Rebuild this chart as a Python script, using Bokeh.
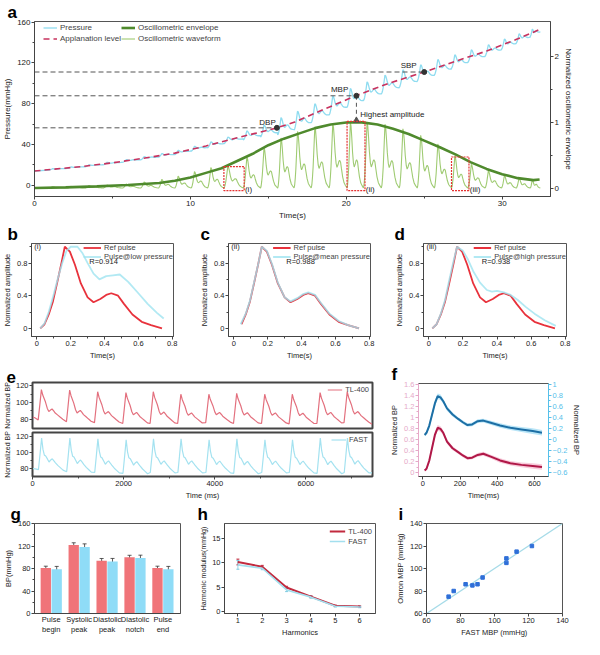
import numpy as np
from bokeh.plotting import figure
from bokeh.models import (Range1d, LinearAxis, FixedTicker, Legend, LegendItem,
                          Whisker, TeeHead, ColumnDataSource)
from bokeh.layouts import row, column
from bokeh.embed import file_html
from bokeh.resources import INLINE
from bokeh.core.properties import value

FONT = "Liberation Sans"

# ---------------- panel a data ----------------
APPL_T = [0, 3, 5, 7, 9, 11, 13, 15.5, 16.7, 18.5, 20.6, 22.7, 25, 27, 29, 31, 32.45]
APPL_V = [14, 18.3, 22, 26.5, 31.5, 38.5, 46.5, 56, 62, 74, 87.7, 99.8, 111, 121.5, 131.5, 143.5, 153]
ENV_T = [0, 2, 4, 6, 8, 9, 10, 11, 12, 13, 14, 15, 16, 17, 18, 19, 20, 20.6, 21, 22, 23, 24,
         25, 26, 27, 28, 29, 30, 31, 32, 32.4]
ENV_V = [0.0, 0.01, 0.025, 0.045, 0.075, 0.11, 0.16, 0.23, 0.30, 0.41, 0.52, 0.65, 0.75, 0.83,
         0.91, 0.965, 0.995, 1.0, 0.997, 0.965, 0.90, 0.82, 0.72, 0.62, 0.51, 0.39, 0.29, 0.21,
         0.15, 0.12, 0.13]
BEAT_ONSET = [0.9, 2.1, 3.25, 4.4, 5.65, 6.8, 7.95, 9.0, 10.05, 11.1, 12.15, 13.4, 14.5, 15.6,
              16.65, 17.75, 18.9, 20.05, 21.1, 22.25, 23.4, 24.55, 25.65, 26.75, 27.8, 28.9,
              29.95, 30.9, 31.8]
BEAT_END = 32.45
OSC_AMP = [0.02, 0.025, 0.035, 0.045, 0.06, 0.09, 0.13, 0.18, 0.25, 0.31, 0.33, 0.47, 0.61,
           0.76, 0.86, 0.93, 0.98, 1.0, 1.0, 0.97, 0.9, 0.8, 0.67, 0.49, 0.36, 0.26, 0.19,
           0.15, 0.13]
PRESS_AMP = [1, 1, 1.5, 2, 2, 2.5, 3, 3.5, 4, 5, 5.5, 8, 11, 16, 17, 17, 17, 17, 17, 17, 16,
             15, 14, 12, 11, 10, 9, 8, 6]
KEY_NAME = ["DBP", "MBP", "SBP"]
KEY_T = [15.55, 20.65, 25.0]
KEY_P = [56.3, 87.7, 111.0]
BOX_T0 = [12.15, 20.05, 26.75]
BOX_T1 = [13.45, 21.2, 27.87]
BOX_TOP = [18.3, 62.7, 27.7]
BOX_BOTTOM = [-5.2, -5.2, -5.2]
BOX_TAG = ["(i)", "(ii)", "(iii)"]

# ---------------- panels b-d data ----------------
REF_T = [0.02, 0.045, 0.07, 0.095, 0.12, 0.145, 0.165, 0.195, 0.225, 0.26, 0.3, 0.335, 0.375,
         0.41, 0.44, 0.48, 0.515, 0.565, 0.62, 0.675, 0.74]
REF_V = [0.0, 0.05, 0.17, 0.33, 0.56, 0.8, 1.0, 0.94, 0.78, 0.55, 0.38, 0.32, 0.36, 0.41, 0.43,
         0.40, 0.3, 0.17, 0.08, 0.04, 0.0]
LOW_T = [0.02, 0.045, 0.07, 0.1, 0.125, 0.15, 0.175, 0.2, 0.24, 0.27, 0.3, 0.335, 0.37, 0.41,
         0.45, 0.49, 0.54, 0.6, 0.655, 0.71, 0.75]
LOW_V = [0.0, 0.06, 0.2, 0.42, 0.62, 0.8, 0.95, 1.0, 1.0, 0.92, 0.8, 0.67, 0.6, 0.64, 0.65,
         0.66, 0.57, 0.43, 0.3, 0.19, 0.12]
MEAN_T = [0.04, 0.07, 0.095, 0.12, 0.145, 0.165, 0.195, 0.225, 0.26, 0.3, 0.335, 0.375, 0.41,
          0.44, 0.48, 0.515, 0.565, 0.62, 0.675, 0.74]
MEAN_V = [0.05, 0.18, 0.34, 0.57, 0.8, 1.0, 0.95, 0.79, 0.56, 0.38, 0.33, 0.37, 0.42, 0.44,
          0.41, 0.31, 0.18, 0.09, 0.04, 0.0]
HIGH_T = [0.02, 0.045, 0.07, 0.095, 0.12, 0.145, 0.165, 0.2, 0.23, 0.26, 0.3, 0.34, 0.37, 0.4,
          0.44, 0.48, 0.52, 0.57, 0.62, 0.68, 0.745]
HIGH_V = [0.0, 0.05, 0.18, 0.35, 0.6, 0.83, 1.0, 0.95, 0.84, 0.7, 0.56, 0.47, 0.45, 0.46, 0.44,
          0.41, 0.35, 0.26, 0.18, 0.1, 0.03]

# ---------------- panel e data ----------------
E_OFF = [0, 35, 70, 100, 160, 200, 233, 270, 304, 340, 374, 430, 480, 540]
E_TMPL_TL = [79.3, 97, 115.5, 109, 100.6, 93, 89.4, 91, 92.3, 90, 87.5, 85, 82.7, 80]
TL_ONSET = [125, 745, 1360, 1980, 2580, 3185, 3800, 4410, 5025, 5630, 6240, 6835]
TL_PEAK = [115.5, 115, 113, 112, 113, 110, 110, 111, 110, 110, 112, 113]
TL_TROUGH = [79.3, 77, 76, 75, 75, 75, 76, 75, 75, 74.5, 75, 76]
TL_HEAD_T, TL_HEAD_V = [0, 60], [83, 81.5]
TL_TAIL_T, TL_TAIL_V = [7450], [74]
F_OFF = [0, 35, 70, 100, 130, 160, 200, 233, 270, 304, 340, 374, 430, 480, 540]
F_TMPL = [79, 98, 118, 104, 97, 96, 92, 88.5, 91, 92.5, 90, 87.5, 84, 81.5, 78.5]
FA_ONSET = [130, 750, 1365, 1985, 2585, 3190, 3805, 4415, 5030, 5635, 6245, 6840]
FA_PEAK = [118, 118, 117, 116, 117, 117, 116, 117, 116, 116, 118, 118]
FA_TROUGH = [78.5, 76, 75, 74, 75, 75, 75, 74, 75, 75, 74, 75]
FA_HEAD_T, FA_HEAD_V = [0, 60], [80, 79.5]
FA_TAIL_T, FA_TAIL_V = [7450], [74.5]

# ---------------- panel f data ----------------
F_T = [10, 20, 35, 50, 65, 80, 95, 110, 130, 160, 190, 215, 240, 265, 295, 325, 365, 415, 470,
       530, 590, 640]
F_FAST = [0.08, 0.12, 0.25, 0.45, 0.65, 0.78, 0.76, 0.69, 0.56, 0.45, 0.37, 0.31, 0.26, 0.27,
          0.33, 0.34, 0.30, 0.25, 0.21, 0.18, 0.15, 0.12]
F_TL = [0.04, 0.07, 0.22, 0.45, 0.68, 0.81, 0.79, 0.72, 0.56, 0.44, 0.37, 0.31, 0.26, 0.27,
        0.32, 0.34, 0.29, 0.22, 0.17, 0.14, 0.12, 0.10]
F_SD = [0.02, 0.03, 0.05, 0.06, 0.06, 0.05, 0.05, 0.04, 0.04, 0.035, 0.03, 0.03, 0.03, 0.03,
        0.035, 0.035, 0.035, 0.04, 0.04, 0.045, 0.05, 0.05]

# ---------------- panel g data ----------------
G_CATS = ["Pulse\nbegin", "Systolic\npeak", "Diastolic\npeak", "Diastolic\nnotch", "Pulse\nend"]
G_TL = [80.8, 121.9, 94, 100, 80.8]
G_TL_ERR = [3.3, 3.8, 3.8, 3.5, 3.3]
G_FAST = [78.7, 118.3, 92.4, 98.5, 78.7]
G_FAST_ERR = [5, 5.5, 5.5, 5.2, 5]

# ---------------- panel h data ----------------
H_X = [1, 2, 3, 4, 5, 6]
H_TL = [10.2, 9.2, 4.9, 3.0, 1.1, 0.95]
H_TL_ERR = [0.6, 0.3, 0.25, 0.2, 0.15, 0.15]
H_FAST = [9.6, 8.9, 4.4, 2.9, 1.0, 0.85]
H_FAST_ERR = [0.9, 0.3, 0.35, 0.2, 0.15, 0.15]

# ---------------- panel i data ----------------
I_FAST = [73, 76, 83, 87, 90, 93, 107, 107, 113, 122]
I_OMRON = [75, 80, 86, 85, 86, 92, 109, 105, 115, 120]
I_LINE = [60, 140]

RED = "#e8323c"
CYAN = "#9fe3f0"


def style(p, fs="7.5px", lfs=None):
    lfs = lfs or fs
    p.xgrid.visible = False
    p.ygrid.visible = False
    p.outline_line_color = "#555555"
    p.outline_line_width = 1
    p.background_fill_color = "white"
    p.border_fill_color = "white"
    for ax in list(p.xaxis) + list(p.yaxis):
        ax.major_label_text_font = FONT
        ax.major_label_text_font_size = fs
        ax.major_label_text_color = "#222222"
        ax.axis_label_text_font = FONT
        ax.axis_label_text_font_size = lfs
        ax.axis_label_text_font_style = "normal"
        ax.axis_label_text_color = "#222222"
        ax.major_tick_out = 3
        ax.major_tick_in = 0
        ax.minor_tick_out = 2
        ax.minor_tick_in = 0
        ax.axis_line_color = "#444444"
        ax.major_tick_line_color = "#444444"
        ax.minor_tick_line_color = "#444444"
        ax.major_label_standoff = 1
        ax.axis_label_standoff = 2


def flip_right_label(ax):
    try:
        ax.axis_label_orientation = "vertical"
    except Exception:
        pass


def leg_style(l, fs="7.5px", gw=16, lh=9):
    l.background_fill_alpha = 0
    l.border_line_color = None
    l.label_text_font = FONT
    l.label_text_font_size = fs
    l.glyph_width = gw
    l.glyph_height = lh
    l.label_height = lh
    l.spacing = 0
    l.padding = 1
    l.margin = 2
    l.label_standoff = 3


def letter(p, ch, dx):
    p.title.text = ch
    p.title.align = "left"
    p.title.offset = dx
    p.title.standoff = 0
    p.title.text_font = FONT
    p.title.text_font_size = "17px"
    p.title.text_font_style = "bold"
    p.title.text_color = "black"


def txt(p, x, y, s, align="left", fs="7.5px", color="#222222", **kw):
    p.text(x=[x], y=[y], text=[s], text_font=value(FONT), text_font_size=fs,
           text_align=align, text_baseline="middle", text_color=color, **kw)


def fig(**kw):
    return figure(output_backend="svg", toolbar_location=None, **kw)


# ======================= panel a =======================
pa = fig(width=584, height=222, x_range=Range1d(0, 33.1), y_range=Range1d(-11, 160.5),
         min_border_left=26, min_border_right=34, min_border_top=20, min_border_bottom=22)
pa.extra_y_ranges = {"env": Range1d(-0.129, 2.53)}
ax_r = LinearAxis(y_range_name="env", axis_label="Normalized oscillometric envelope",
                  ticker=FixedTicker(ticks=[0, 1, 2], minor_ticks=[0.5, 1.5]))
pa.add_layout(ax_r, "right")
pa.xaxis[0].ticker = FixedTicker(ticks=[0, 10, 20, 30], minor_ticks=[5, 15, 25])
pa.yaxis[0].ticker = FixedTicker(ticks=[0, 40, 80, 120, 160], minor_ticks=[20, 60, 100, 140])
pa.xaxis[0].axis_label = "Time(s)"
pa.yaxis[0].axis_label = "Pressure(mmHg)"

ph = (np.array(REF_T) - REF_T[0]) / (REF_T[-1] - REF_T[0])
shp = np.array(REF_V)
bounds = BEAT_ONSET + [BEAT_END]
wt, wv = [0.0], [0.0]
pt, pv = [0.0], [APPL_V[0]]
for i, amp in enumerate(OSC_AMP):
    tt = bounds[i] + ph * (bounds[i + 1] - bounds[i])
    wt += list(tt)
    wv += list(amp * shp)
    pt += list(tt)
    pv += list(np.interp(tt, APPL_T, APPL_V) + PRESS_AMP[i] * (shp - 0.45))

r_press = pa.line(pt, pv, line_color="#8fdcf0", line_width=1.3)
r_appl = pa.line(APPL_T, APPL_V, line_color="#c8325e", line_width=1.6, line_dash="6 4")
r_wave = pa.line(wt, wv, y_range_name="env", line_color="#9fcb72", line_width=1.1)
r_env = pa.line(ENV_T, ENV_V, y_range_name="env", line_color="#4f8a2d", line_width=2.6)

pa.segment(x0=[0, 0, 0], y0=KEY_P, x1=KEY_T, y1=KEY_P, line_color="#555555",
           line_width=1, line_dash="5 3")
pa.segment(x0=[KEY_T[1]], y0=[KEY_P[1]], x1=[KEY_T[1]], y1=[63.5], line_color="#555555",
           line_width=1, line_dash="4 3")
pa.scatter([KEY_T[1]], [63.5], marker="triangle", size=6, color="#555555")
pa.scatter(KEY_T, KEY_P, size=5, color="#333333")
pa.quad(left=BOX_T0, right=BOX_T1, top=BOX_TOP, bottom=BOX_BOTTOM, fill_alpha=0,
        line_color="#e53232", line_width=1.2, line_dash="2 1")
pa.text(x=[b + 0.05 for b in BOX_T1], y=[-4.4] * 3, text=BOX_TAG, text_font=value(FONT),
        text_font_size="8px", text_baseline="middle", text_color="#222222")
txt(pa, 14.95, 62, "DBP", "center", "8px")
txt(pa, 19.57, 94, "MBP", "center", "8px")
txt(pa, 24.0, 117.4, "SBP", "center", "8px")
txt(pa, 20.9, 69.8, "Highest amplitude", "left", "8px")

la1 = Legend(items=[LegendItem(label="Pressure", renderers=[r_press]),
                    LegendItem(label="Applanation level", renderers=[r_appl])], location=(9, 152))
la2 = Legend(items=[LegendItem(label="Oscillometric envelope", renderers=[r_env]),
                    LegendItem(label="Oscillometric waveform", renderers=[r_wave])],
             location=(87, 152))
for l in (la1, la2):
    leg_style(l, "8px", 14, 11)
    pa.add_layout(l)
style(pa, "8px", "8px")
flip_right_label(ax_r)
letter(pa, "a", -27)


# ======================= panels b-d =======================
def pulse_panel(ch, tag, rt, rv, ct, cv, clabel, rtext, width, mbl, mbr, ldx):
    p = fig(width=width, height=140, x_range=Range1d(-0.032, 0.808), y_range=Range1d(-0.1, 1.04),
            min_border_left=mbl, min_border_right=mbr, min_border_top=20, min_border_bottom=24)
    r1 = p.line(rt, rv, line_color=RED, line_width=1.8)
    r2 = p.line(ct, cv, line_color=CYAN, line_width=1.8, line_alpha=0.8)
    leg = Legend(items=[LegendItem(label="Ref pulse", renderers=[r1]),
                        LegendItem(label=clabel, renderers=[r2])], location="top_right")
    leg_style(leg, "7.5px", 18, 9)
    leg.margin = 0
    p.add_layout(leg)
    txt(p, -0.015, 1.0, tag)
    txt(p, 0.31, 0.82, rtext)
    p.xaxis.ticker = FixedTicker(ticks=[0, 0.2, 0.4, 0.6, 0.8], minor_ticks=[0.1, 0.3, 0.5, 0.7])
    p.yaxis.ticker = FixedTicker(ticks=[0, 0.4, 0.8], minor_ticks=[0.2, 0.6, 1.0])
    p.xaxis.axis_label = "Time(s)"
    p.yaxis.axis_label = "Normalized amplitude"
    style(p)
    letter(p, ch, ldx)
    return p


pb = pulse_panel("b", "(i)", REF_T, REF_V, LOW_T, LOW_V, "Pulse@low pressure", "R=0.914",
                 197, 24, 24, -24)
pc = pulse_panel("c", "(ii)", REF_T[1:], REF_V[1:], MEAN_T, MEAN_V, "Pulse@mean pressure",
                 "R=0.988", 195, 28, 22, -28)
pd = pulse_panel("d", "(iii)", REF_T, REF_V, HIGH_T, HIGH_V, "Pulse@high pressure", "R=0.938",
                 192, 28, 18, -29)


# ======================= panel e =======================
def beat_series(onsets, troughs, peaks, off, tmpl, ht, hv, tt, tv):
    norm = (np.array(tmpl) - tmpl[0]) / (max(tmpl) - tmpl[0])
    t, v = list(ht), list(hv)
    for o, lo, hi in zip(onsets, troughs, peaks):
        t += list(o + np.array(off))
        v += list(lo + (hi - lo) * norm)
    return t + list(tt), v + list(tv)


tl_t, tl_v = beat_series(TL_ONSET, TL_TROUGH, TL_PEAK, E_OFF, E_TMPL_TL, TL_HEAD_T, TL_HEAD_V,
                         TL_TAIL_T, TL_TAIL_V)
fa_t, fa_v = beat_series(FA_ONSET, FA_TROUGH, FA_PEAK, F_OFF, F_TMPL, FA_HEAD_T, FA_HEAD_V,
                         FA_TAIL_T, FA_TAIL_V)
ex = Range1d(0, 7460)
pe1 = fig(width=384, height=68, x_range=ex, y_range=Range1d(69, 124), min_border_left=26,
          min_border_right=12, min_border_top=20, min_border_bottom=2)
pe2 = fig(width=384, height=72, x_range=ex, y_range=Range1d(70, 125), min_border_left=26,
          min_border_right=12, min_border_top=2, min_border_bottom=24)
re1 = pe1.line(tl_t, tl_v, line_color="#e3707e", line_width=1.2)
re2 = pe2.line(fa_t, fa_v, line_color="#a4e2f0", line_width=1.2)
for p, r, lab in ((pe1, re1, "TL-400"), (pe2, re2, "FAST")):
    lg = Legend(items=[LegendItem(label=lab, renderers=[r])], location="top_right")
    leg_style(lg, "7.5px", 15, 9)
    lg.margin = 3
    p.add_layout(lg)
    p.yaxis.ticker = FixedTicker(ticks=[80, 100, 120], minor_ticks=[90, 110])
    p.yaxis.axis_label = "Normalized BP"
    p.xaxis.ticker = FixedTicker(ticks=[0, 2000, 4000, 6000], minor_ticks=[1000, 3000, 5000, 7000])
    style(p, "7.5px", "7px")
    p.outline_line_color = "#444444"
    p.outline_line_width = 2
pe1.xaxis.visible = False
pe2.xaxis.axis_label_text_font_size = "7.5px"
pe2.xaxis.axis_label = "Time (ms)"
letter(pe1, "e", -26)

# ======================= panel f =======================
pf = fig(width=200, height=140, x_range=Range1d(-23, 675), y_range=Range1d(-0.07, 1.61),
         min_border_left=34, min_border_right=24, min_border_top=20, min_border_bottom=26)
pf.extra_y_ranges = {"r": Range1d(-0.67, 1.01)}
axf = LinearAxis(y_range_name="r", axis_label="Normalized BP",
                 ticker=FixedTicker(ticks=[-0.6, -0.4, -0.2, 0.0, 0.2, 0.4, 0.6, 0.8, 1.0],
                                    minor_ticks=[-0.5, -0.3, -0.1, 0.1, 0.3, 0.5, 0.7, 0.9]))
pf.add_layout(axf, "right")
fa_lo = [a - s for a, s in zip(F_FAST, F_SD)]
fa_hi = [a + s for a, s in zip(F_FAST, F_SD)]
tl_lo = [a - s for a, s in zip(F_TL, F_SD)]
tl_hi = [a + s for a, s in zip(F_TL, F_SD)]
pf.varea(x=F_T, y1=fa_lo, y2=fa_hi, y_range_name="r", fill_color="#7fd0f0", fill_alpha=0.55)
pf.line(F_T, F_FAST, y_range_name="r", line_color="#1d6fa5", line_width=2)
pf.varea(x=F_T, y1=tl_lo, y2=tl_hi, fill_color="#f19ab8", fill_alpha=0.5)
pf.line(F_T, F_TL, line_color="#b01848", line_width=2)
pf.xaxis.ticker = FixedTicker(ticks=[0, 200, 400, 600], minor_ticks=[100, 300, 500])
pf.yaxis[0].ticker = FixedTicker(ticks=[0.0, 0.2, 0.4, 0.6, 0.8, 1.0, 1.2, 1.4, 1.6],
                                 minor_ticks=[0.1, 0.3, 0.5, 0.7, 0.9, 1.1, 1.3, 1.5])
pf.xaxis.axis_label = "Time(ms)"
pf.yaxis[0].axis_label = "Normalized BP"
style(pf)
flip_right_label(axf)
for ax, c in ((pf.yaxis[0], "#e6a9c8"), (axf, "#56c0ea")):
    ax.axis_line_color = c
    ax.major_tick_line_color = c
    ax.minor_tick_line_color = c
    ax.major_label_text_color = c
letter(pf, "f", -27)

# ======================= panel g =======================
pg = fig(width=197, height=137, x_range=Range1d(-0.6, 4.63), y_range=Range1d(0, 160),
         min_border_left=24, min_border_right=17, min_border_top=20, min_border_bottom=26)
gx = list(range(len(G_CATS)))
src_g = ColumnDataSource(dict(
    xr=[x - 0.195 for x in gx], xc=[x + 0.195 for x in gx],
    tl=G_TL, fa=G_FAST,
    tl_lo=[a - e for a, e in zip(G_TL, G_TL_ERR)], tl_hi=[a + e for a, e in zip(G_TL, G_TL_ERR)],
    fa_lo=[a - e for a, e in zip(G_FAST, G_FAST_ERR)],
    fa_hi=[a + e for a, e in zip(G_FAST, G_FAST_ERR)]))
pg.vbar(x="xr", top="tl", width=0.37, source=src_g, fill_color="#f07479", line_color=None)
pg.vbar(x="xc", top="fa", width=0.37, source=src_g, fill_color="#8fdcf7", line_color=None)
for b, lo, hi in (("xr", "tl_lo", "tl_hi"), ("xc", "fa_lo", "fa_hi")):
    pg.add_layout(Whisker(source=src_g, base=b, lower=lo, upper=hi, line_color="#333333",
                          line_width=0.8,
                          upper_head=TeeHead(size=4, line_color="#333333", line_width=0.8),
                          lower_head=TeeHead(size=4, line_color="#333333", line_width=0.8)))
pg.xaxis.ticker = FixedTicker(ticks=gx)
pg.xaxis.major_label_overrides = {i: c for i, c in enumerate(G_CATS)}
pg.yaxis.ticker = FixedTicker(ticks=[0, 40, 80, 120, 160], minor_ticks=[20, 60, 100, 140])
pg.yaxis.axis_label = "BP(mmHg)"
style(pg)
pg.xaxis.major_tick_out = 0
letter(pg, "g", -24)

# ======================= panel h =======================
ph_ = fig(width=195, height=137, x_range=Range1d(0.45, 6.65), y_range=Range1d(-0.5, 18.2),
          min_border_left=26, min_border_right=17, min_border_top=20, min_border_bottom=26)
src_h = ColumnDataSource(dict(
    x=H_X, tl=H_TL, fa=H_FAST,
    tl_lo=[a - e for a, e in zip(H_TL, H_TL_ERR)], tl_hi=[a + e for a, e in zip(H_TL, H_TL_ERR)],
    fa_lo=[a - e for a, e in zip(H_FAST, H_FAST_ERR)],
    fa_hi=[a + e for a, e in zip(H_FAST, H_FAST_ERR)]))
rh1 = ph_.line("x", "tl", source=src_h, line_color="#c22a3e", line_width=2)
rh2 = ph_.line("x", "fa", source=src_h, line_color="#a3dfee", line_width=1.6)
for lo, hi, c in (("tl_lo", "tl_hi", "#c22a3e"), ("fa_lo", "fa_hi", "#7fcbe0")):
    ph_.add_layout(Whisker(source=src_h, base="x", lower=lo, upper=hi, line_color=c,
                           line_width=0.8, upper_head=TeeHead(size=3, line_color=c),
                           lower_head=TeeHead(size=3, line_color=c)))
lh = Legend(items=[LegendItem(label="TL-400", renderers=[rh1]),
                   LegendItem(label="FAST", renderers=[rh2])], location="top_right")
leg_style(lh, "7.5px", 16, 10)
lh.margin = 3
ph_.add_layout(lh)
ph_.xaxis.ticker = FixedTicker(ticks=H_X)
ph_.yaxis.ticker = FixedTicker(ticks=[0, 5, 10, 15])
ph_.xaxis.axis_label = "Harmonics"
ph_.yaxis.axis_label = "Harmonic modulus(mmHg)"
style(ph_, "7.5px", "7px")
ph_.xaxis.axis_label_text_font_size = "7.5px"
letter(ph_, "h", -27)

# ======================= panel i =======================
pi = fig(width=192, height=137, x_range=Range1d(60, 140), y_range=Range1d(60, 140),
         min_border_left=28, min_border_right=22, min_border_top=20, min_border_bottom=26)
pi.line(I_LINE, I_LINE, line_color="#a6dbe8", line_width=1.3)
pi.scatter(I_FAST, I_OMRON, marker="square", size=3.5, color="#2f6fd8")
pi.xaxis.ticker = FixedTicker(ticks=[60, 80, 100, 120, 140])
pi.yaxis.ticker = FixedTicker(ticks=[60, 80, 100, 120, 140])
pi.xaxis.axis_label = "FAST MBP (mmHg)"
pi.yaxis.axis_label = "Omron MBP (mmHg)"
style(pi)
letter(pi, "i", -28)

layout = column(pa, row(pb, pc, pd), row(column(pe1, pe2), pf), row(pg, ph_, pi))
open("out.html", "w").write(file_html(layout, INLINE))
